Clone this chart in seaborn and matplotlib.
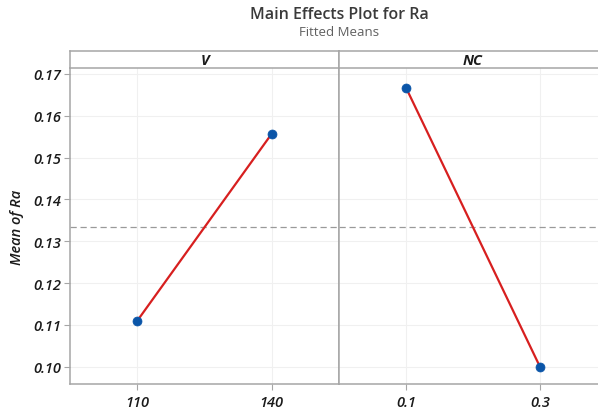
import matplotlib
matplotlib.use("Agg")
import matplotlib.pyplot as plt
import seaborn as sns
import pandas as pd

factors = ["V", "NC"]
v_levels = ["110", "140"]
v_means = [0.1110, 0.1557]
nc_levels = ["0.1", "0.3"]
nc_means = [0.1667, 0.1000]
grand_mean = 0.1333
y_ticks = [0.10, 0.11, 0.12, 0.13, 0.14, 0.15, 0.16, 0.17]

sns.set_theme(style="white")
plt.rcParams['font.family'] = ['Open Sans', 'DejaVu Sans']

W, H = 598, 414
fig = plt.figure(figsize=(W / 100, H / 100), dpi=100)

spine_c = "#a6a6a6"
grid_c = "#f0f0f0"
line_c = "#d71f1f"
mark_c = "#0a55a8"
text_c = "#1a1a1a"

left, divx, right = 70, 339, 607
bot, top, strip_top = 385, 69, 52

def fx(px):
    return px / W

def fy(py):
    return 1 - py / H

panels = [(factors[0], v_levels, v_means, left, divx),
          (factors[1], nc_levels, nc_means, divx, right)]

tick_font = dict(family=['Open Sans', 'DejaVu Sans'], style='italic', weight='semibold', size=10.5)

for i, (name, levels, means, x0, x1) in enumerate(panels):
    ax = fig.add_axes([fx(x0), fy(bot), fx(x1) - fx(x0), fy(top) - fy(bot)])
    df = pd.DataFrame({"level": levels, "mean": means})
    ax.axhline(grand_mean, color="#9a9a9a", lw=0.9, ls=(0, (5, 3)), zorder=1)
    sns.lineplot(data=df, x="level", y="mean", color=line_c, lw=1.6, ax=ax, zorder=2, sort=False)
    sns.scatterplot(data=df, x="level", y="mean", color=mark_c, s=42, edgecolor=mark_c, linewidth=0.5, ax=ax, zorder=3)
    ax.set_xlim(-0.5, 1.5)
    ax.set_ylim(0.0959, 0.1714)
    ax.set_yticks(y_ticks)
    ax.grid(True, color=grid_c, lw=0.8)
    ax.set_axisbelow(True)
    ax.set_xlabel("")
    ax.set_ylabel("")
    for s in ax.spines.values():
        s.set_color(spine_c)
        s.set_linewidth(1.1)
    ax.spines['top'].set_visible(False)
    ax.tick_params(axis='x', bottom=True, length=4, width=0.8, color=spine_c, pad=4, labelcolor=text_c)
    ax.set_xticks([0, 1])
    ax.set_xticklabels(levels, fontdict=tick_font)
    if i == 0:
        ax.tick_params(axis='y', left=True, length=4, width=0.8, color=spine_c, pad=2, labelcolor=text_c)
        ax.set_yticklabels([f"{t:.2f}" for t in y_ticks], fontdict=tick_font)
        ax.set_ylabel("Mean of Ra", fontdict=dict(family=['Open Sans', 'DejaVu Sans'], style='italic', weight='semibold', size=10.5), color=text_c, labelpad=7)
    else:
        ax.tick_params(axis='y', left=False, labelleft=False)
    # strip
    sax = fig.add_axes([fx(x0), fy(top), fx(x1) - fx(x0), fy(strip_top) - fy(top)])
    sax.set_xticks([])
    sax.set_yticks([])
    sax.set_facecolor("white")
    for s in sax.spines.values():
        s.set_color(spine_c)
        s.set_linewidth(1.1)
    sax.text(0.5, 0.45, name, transform=sax.transAxes, ha='center', va='center',
             fontdict=dict(family=['Open Sans', 'DejaVu Sans'], style='italic', weight='bold', size=10.5), color=text_c)

fig.text(fx(339), fy(15), "Main Effects Plot for Ra", ha='center', va='center',
         fontsize=11.5, weight='semibold', color="#3a3a3a")
fig.text(fx(339), fy(32), "Fitted Means", ha='center', va='center',
         fontsize=9.5, color="#606060")

fig.savefig("out.png", dpi=100)
